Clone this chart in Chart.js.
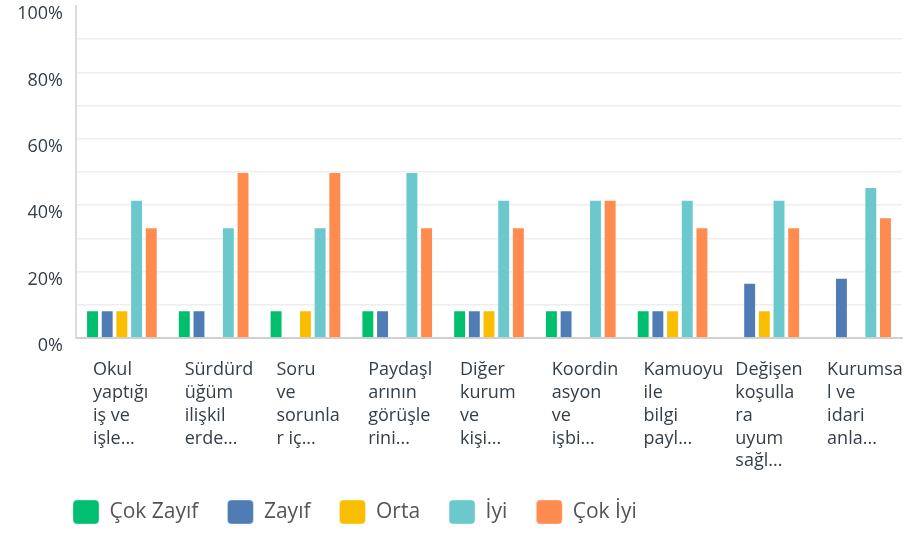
<!DOCTYPE html>
<html>
<head>
<meta charset="utf-8">
<script src="https://cdn.jsdelivr.net/npm/chart.js@4"></script>
<style>
  html, body { margin: 0; padding: 0; background: #fff; }
  #wrap { width: 913px; height: 534px; }
</style>
</head>
<body>
<div id="wrap"><canvas id="surveyChart" width="913" height="534"></canvas></div>
<script>
// categories (truncated labels as shown in the survey export)
const categories = [
    ["Okul", "yaptığı", "iş ve", "işle..."],
    ["Sürdürd", "üğüm", "ilişkil", "erde..."],
    ["Soru", "ve", "sorunla", "r iç..."],
    ["Paydaşl", "arının", "görüşle", "rini..."],
    ["Diğer", "kurum", "ve", "kişi..."],
    ["Koordin", "asyon", "ve", "işbi..."],
    ["Kamuoyu", "ile", "bilgi", "payl..."],
    ["Değişen", "koşulla", "ra", "uyum", "sağl..."],
    ["Kurumsa", "l ve", "idari", "anla..."]
];

const seriesNames = ["Çok Zayıf", "Zayıf", "Orta", "İyi", "Çok İyi"];
const seriesColors = ["#00bf6f", "#507cb6", "#f9be00", "#6bc8cd", "#ff8b4f"];

// percentages per answer option
const cokZayif = [8.33, 8.33, 8.33, 8.33, 8.33, 8.33, 8.33, 0, 0];
const zayif    = [8.33, 8.33, 0, 8.33, 8.33, 8.33, 8.33, 16.67, 18.18];
const orta     = [8.33, 0, 8.33, 0, 8.33, 0, 8.33, 8.33, 0];
const iyi      = [41.67, 33.33, 33.33, 50, 41.67, 41.67, 41.67, 41.67, 45.45];
const cokIyi   = [33.33, 50, 50, 33.33, 33.33, 41.67, 33.33, 33.33, 36.36];

const yTicks = [0, 20, 40, 60, 80, 100];

const seriesData = [cokZayif, zayif, orta, iyi, cokIyi];

// legend sits indented under the plot, move it right a bit
const legendShift = {
    id: "legendShift",
    afterLayout(chart) {
        chart.legend.left += 44;
        chart.legend.right += 44;
    }
};

// labels may overhang, don't let them shrink the plot
function noPadding(scale) {
    scale.paddingLeft = 0;
    scale.paddingRight = 0;
    scale.paddingTop = 0;
    scale.paddingBottom = 0;
}

new Chart(document.getElementById("surveyChart"), {
    type: "bar",
    data: {
        labels: categories,
        datasets: seriesNames.map((name, i) => ({
            label: name,
            data: seriesData[i],
            backgroundColor: seriesColors[i],
            borderColor: "rgba(255,255,255,0.35)",
            borderWidth: 1,
            categoryPercentage: 0.8,
            barPercentage: 0.88
        }))
    },
    plugins: [legendShift],
    options: {
        responsive: false,
        animation: false,
        layout: { autoPadding: false, padding: { left: 0, right: 11, top: 6, bottom: 0 } },
        plugins: {
            tooltip: { enabled: false },
            legend: {
                position: "bottom",
                align: "start",
                labels: {
                    boxWidth: 26,
                    boxHeight: 24,
                    padding: 29,
                    useBorderRadius: true,
                    borderRadius: 4,
                    color: "#555",
                    font: { family: "'Open Sans', sans-serif", size: 21 }
                }
            }
        },
        scales: {
            x: {
                grid: { display: false, drawTicks: false },
                border: { color: "#d0d0d0", width: 2 },
                ticks: {
                    autoSkip: false,
                    maxRotation: 0,
                    minRotation: 0,
                    align: "start",
                    labelOffset: -29,
                    padding: 21,
                    color: "#333e48",
                    font: { family: "'Open Sans', sans-serif", size: 18, lineHeight: 1.26 }
                },
                afterFit: function (scale) {
                    scale.height = 133;
                    noPadding(scale);
                }
            },
            y: {
                min: 0,
                max: 100,
                grid: {
                    drawTicks: false,
                    lineWidth: 1.5,
                    color: ctx => (ctx.tick && ctx.tick.value === 100) ? "rgba(0,0,0,0)" : "#eeeeee"
                },
                border: { color: "#dcdcdc", width: 2 },
                ticks: {
                    stepSize: 10,
                    padding: 13,
                    labelOffset: 8,
                    color: "#333e48",
                    font: { family: "'Open Sans', sans-serif", size: 18 },
                    callback: v => yTicks.includes(v) ? v + "%" : ""
                },
                afterFit: function (scale) {
                    scale.width = 76;
                    noPadding(scale);
                }
            }
        }
    }
});
</script>
</body>
</html>
